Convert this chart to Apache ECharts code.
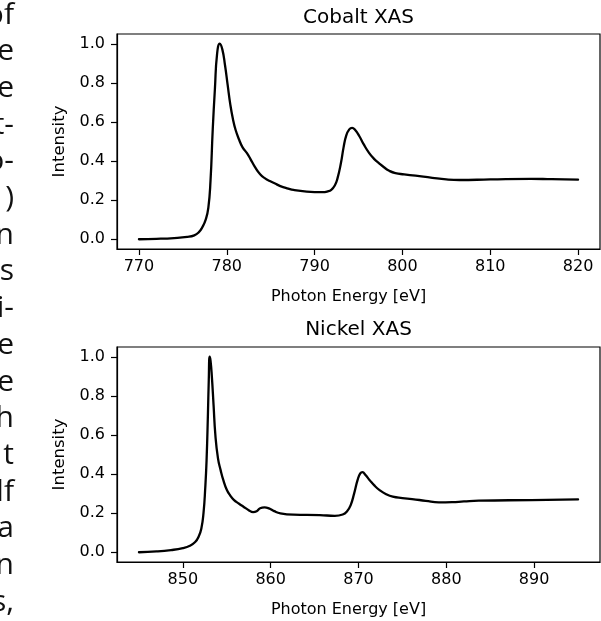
<!DOCTYPE html>
<html>
<head>
<meta charset="utf-8">
<script src="https://cdn.jsdelivr.net/npm/echarts@6/dist/echarts.min.js"></script>
<style>
html,body{margin:0;padding:0;background:#fff;}
#chart{width:601px;height:621px;}
</style>
</head>
<body>
<div id="chart"></div>
<script>
// ---- data ----
const cobaltEnergy = [770, 772, 774, 775.5, 776.3, 776.8, 777.2, 777.6, 777.9, 778.15, 778.4, 778.65, 778.9, 779.2, 779.5, 779.8, 780.1, 780.4, 780.7, 781.0, 781.4, 781.8, 782.3, 782.7, 783.2, 783.8, 784.4, 784.9, 785.5, 786.1, 787.0, 787.6, 789.1, 790.9, 791.5, 791.9, 792.3, 792.6, 793.0, 793.3, 793.6, 793.95, 794.27, 794.6, 795.1, 795.6, 796.2, 796.8, 797.35, 797.9, 798.5, 799.2, 800.2, 801.5, 803.4, 805.0, 806.5, 810, 814.65, 817, 820];
const cobaltIntensity = [0, 0.002, 0.006, 0.012, 0.02, 0.035, 0.06, 0.1, 0.16, 0.3, 0.56, 0.77, 0.95, 1.0, 0.97, 0.89, 0.79, 0.69, 0.615, 0.56, 0.51, 0.47, 0.44, 0.41, 0.37, 0.332, 0.31, 0.298, 0.285, 0.272, 0.259, 0.252, 0.244, 0.241, 0.245, 0.253, 0.275, 0.31, 0.39, 0.47, 0.53, 0.562, 0.57, 0.56, 0.527, 0.485, 0.442, 0.41, 0.388, 0.368, 0.35, 0.338, 0.332, 0.325, 0.314, 0.306, 0.303, 0.306, 0.309, 0.307, 0.305];

const nickelEnergy = [845, 847, 848.65, 850.0, 850.8, 851.4, 851.8, 852.1, 852.35, 852.55, 852.7, 852.85, 852.95, 853.05, 853.15, 853.3, 853.5, 853.7, 854.0, 854.3, 854.6, 855.0, 855.4, 855.8, 856.4, 856.9, 857.5, 858.0, 858.4, 858.8, 859.3, 859.8, 860.4, 861.1, 862.6, 865.6, 867.3, 868.2, 868.7, 869.1, 869.5, 869.9, 870.2, 870.45, 870.8, 871.25, 871.8, 872.4, 873.1, 873.9, 875.0, 876.1, 877.65, 879.15, 880.65, 882.0, 883.7, 889.7, 895];
const nickelIntensity = [0, 0.004, 0.011, 0.021, 0.033, 0.052, 0.08, 0.12, 0.2, 0.33, 0.47, 0.7, 0.88, 1.0, 0.98, 0.9, 0.75, 0.6, 0.48, 0.42, 0.37, 0.32, 0.29, 0.268, 0.248, 0.233, 0.215, 0.205, 0.21, 0.225, 0.229, 0.224, 0.21, 0.199, 0.192, 0.19, 0.186, 0.193, 0.21, 0.24, 0.3, 0.37, 0.403, 0.41, 0.395, 0.37, 0.342, 0.318, 0.298, 0.284, 0.277, 0.272, 0.263, 0.255, 0.256, 0.26, 0.264, 0.267, 0.27];

const cobaltXTicks = [770, 780, 790, 800, 810, 820];
const nickelXTicks = [850, 860, 870, 880, 890];
const yTicks = [0, 0.2, 0.4, 0.6, 0.8, 1.0];

const titles = ['Cobalt XAS', 'Nickel XAS'];
const xLabel = 'Photon Energy [eV]';
const yLabel = 'Intensity';

// fragments of surrounding page text (cropped column at left edge)
const sideText = ['of', 'e', 'e', 't-', 'o-', ')', 'n', 's', 'i-', 'e', 'e', 'h', 't', 'lf', 'a', 'n', 's,'];

// ---- chart ----
const FONT = 'DejaVu Sans';
const chart = echarts.init(document.getElementById('chart'), null, {renderer: 'canvas'});

function pairs(xs, ys) { return xs.map((x, i) => [x, ys[i]]); }

function xAxisCfg(gridIndex, min, max, ticks) {
  return {
    type: 'value', gridIndex, min, max,
    name: xLabel, nameLocation: 'middle', nameGap: 40,
    nameTextStyle: {fontFamily: FONT, fontSize: 16, color: '#000', padding: [0, 20, 0, 0]},
    axisLine: {show: true, onZero: false, lineStyle: {color: '#000', width: 1.2}},
    axisTick: {show: true, inside: false, length: 6, customValues: ticks, lineStyle: {color: '#000', width: 1.2}},
    axisLabel: {show: true, margin: 10, customValues: ticks, fontFamily: FONT, fontSize: 16, color: '#000'},
    splitLine: {show: false}
  };
}
function yAxisCfg(gridIndex) {
  return {
    type: 'value', gridIndex, min: -0.05, max: 1.05,
    name: yLabel, nameLocation: 'middle', nameGap: 46,
    nameTextStyle: {fontFamily: FONT, fontSize: 16.5, color: '#000'},
    axisLine: {show: true, onZero: false, lineStyle: {color: '#000', width: 1.2}},
    axisTick: {show: true, inside: false, length: 6, customValues: yTicks, lineStyle: {color: '#000', width: 1.2}},
    axisLabel: {show: true, margin: 12, customValues: yTicks, fontFamily: FONT, fontSize: 16, color: '#000',
      formatter: v => v.toFixed(1)},
    splitLine: {show: false}
  };
}

const graphics = [];
titles.forEach((t, i) => {
  graphics.push({type: 'text', x: 358.5, y: i === 0 ? 17.5 : 330,
    style: {text: t, fontFamily: FONT, fontSize: 20, fill: '#000', align: 'center', verticalAlign: 'middle'}});
});
sideText.forEach((t, i) => {
  graphics.push({type: 'text', x: 14, y: 15 + 36.7 * i,
    style: {text: t, fontFamily: 'Open Sans', fontSize: 30, fill: '#111', align: 'right', verticalAlign: 'middle'}});
});

chart.setOption({
  animation: false,
  backgroundColor: '#fff',
  grid: [
    {left: 117, top: 34, width: 483, height: 215, show: true, borderColor: '#000', borderWidth: 1.2, containLabel: false},
    {left: 117, top: 347, width: 483, height: 215, show: true, borderColor: '#000', borderWidth: 1.2, containLabel: false}
  ],
  xAxis: [xAxisCfg(0, 767.5, 822.5, cobaltXTicks), xAxisCfg(1, 842.5, 897.5, nickelXTicks)],
  yAxis: [yAxisCfg(0), yAxisCfg(1)],
  series: [
    {type: 'line', xAxisIndex: 0, yAxisIndex: 0, data: pairs(cobaltEnergy, cobaltIntensity),
      showSymbol: false, smooth: 0.5, lineStyle: {color: '#000', width: 2.3, join: 'round', cap: 'round'}},
    {type: 'line', xAxisIndex: 1, yAxisIndex: 1, data: pairs(nickelEnergy, nickelIntensity),
      showSymbol: false, smooth: 0.5, lineStyle: {color: '#000', width: 2.3, join: 'round', cap: 'round'}}
  ],
  graphic: graphics
});
</script>
</body>
</html>
